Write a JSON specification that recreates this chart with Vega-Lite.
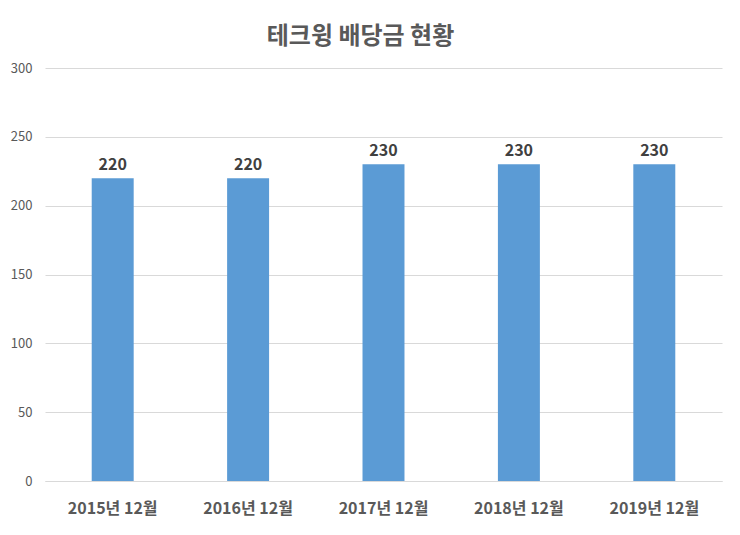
{
  "$schema": "https://vega.github.io/schema/vega-lite/v6.json",
  "width": 677,
  "height": 413,
  "autosize": "none",
  "padding": {"left": 45, "top": 68, "right": 18, "bottom": 54},
  "background": "white",
  "title": {
    "text": "테크윙 배당금 현황",
    "font": "Noto Sans CJK KR",
    "fontSize": 24,
    "fontWeight": "bold",
    "color": "#595959",
    "anchor": "middle",
    "dx": -23,
    "offset": 13
  },
  "data": {
    "values": [
      {"period": "2015년 12월", "value": 220},
      {"period": "2016년 12월", "value": 220},
      {"period": "2017년 12월", "value": 230},
      {"period": "2018년 12월", "value": 230},
      {"period": "2019년 12월", "value": 230}
    ]
  },
  "config": {
    "view": {"stroke": null},
    "font": "Noto Sans CJK KR"
  },
  "encoding": {
    "x": {
      "field": "period",
      "type": "nominal",
      "sort": null,
      "scale": {"paddingInner": 0.69, "paddingOuter": 0.345},
      "axis": {
        "title": null,
        "labelAngle": 0,
        "labelFont": "Noto Sans CJK KR",
        "labelFontSize": 16,
        "labelFontWeight": "bold",
        "labelColor": "#595959",
        "labelPadding": 19,
        "ticks": false,
        "domainColor": "#d9d9d9",
        "domainWidth": 1
      }
    },
    "y": {
      "field": "value",
      "type": "quantitative",
      "scale": {"domain": [0, 300]},
      "axis": {
        "title": null,
        "values": [0, 50, 100, 150, 200, 250, 300],
        "labelFont": "Noto Sans CJK KR",
        "labelFontSize": 13,
        "labelColor": "#595959",
        "labelPadding": 13,
        "ticks": false,
        "domain": false,
        "gridColor": "#d9d9d9",
        "gridWidth": 1
      }
    }
  },
  "layer": [
    {"mark": {"type": "bar", "color": "#5B9BD5"}},
    {
      "mark": {
        "type": "text",
        "baseline": "bottom",
        "dy": -5,
        "font": "Noto Sans CJK KR",
        "fontSize": 16,
        "fontWeight": "bold",
        "color": "#404040"
      },
      "encoding": {"text": {"field": "value", "type": "quantitative"}}
    }
  ]
}
